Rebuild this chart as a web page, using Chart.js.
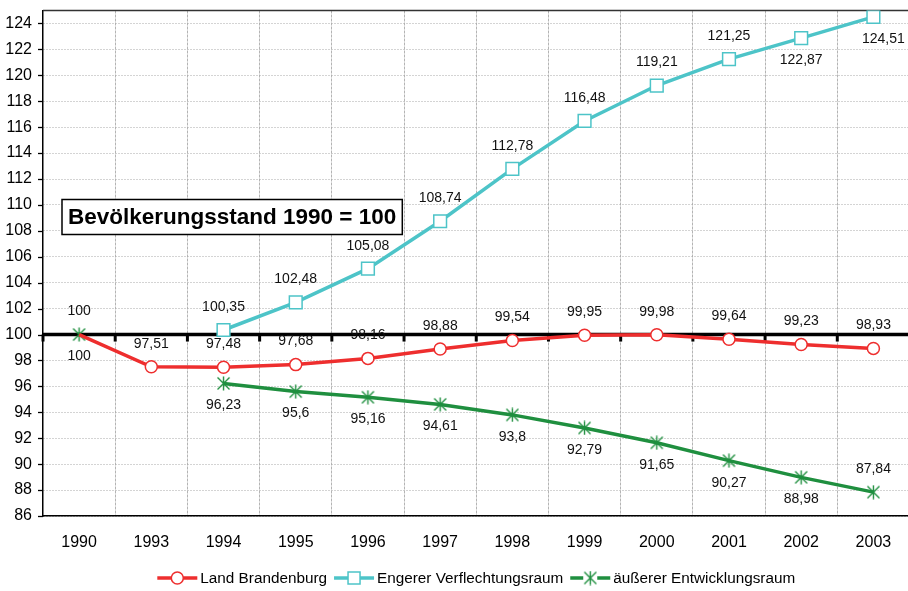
<!DOCTYPE html>
<html>
<head>
<meta charset="utf-8">
<script src="https://cdn.jsdelivr.net/npm/chart.js@4/dist/chart.umd.min.js"></script>
<style>
  html, body { margin: 0; padding: 0; background: #fff; overflow: hidden; }
  #wrap { width: 1000px; height: 591px; }
  canvas { display: block; }
</style>
</head>
<body>
<div id="wrap"><canvas id="chart" width="920" height="591" style="width:920px;height:591px"></canvas></div>
<script>
// Bevölkerungsentwicklung, 1990 = 100
const years = ['1990', '1993', '1994', '1995', '1996', '1997', '1998', '1999', '2000', '2001', '2002', '2003'];
const landBrandenburg = [100, 97.51, 97.48, 97.68, 98.16, 98.88, 99.54, 99.95, 99.98, 99.64, 99.23, 98.93];
const engererRaum = [null, null, 100.35, 102.48, 105.08, 108.74, 112.78, 116.48, 119.21, 121.25, 122.87, 124.51];
const aeussererRaum = [100, null, 96.23, 95.6, 95.16, 94.61, 93.8, 92.79, 91.65, 90.27, 88.98, 87.84];
const yTicks = [86, 88, 90, 92, 94, 96, 98, 100, 102, 104, 106, 108, 110, 112, 114, 116, 118, 120, 122, 124];
const refValue = 100;
const boxText = 'Bevölkerungsstand 1990 = 100';

const RED = '#ee2e2e', TEAL = '#4dc4c8', GREEN = '#1f8f3f';
const FONT = '"Liberation Sans", Arial, sans-serif';
const PLOT_RIGHT = 915; // rechter Rand der Zeichenfläche (im Original abgeschnitten)

// Stern-Marker (X mit senkrechtem Strich) wie in Excel
function starMarker(size, color) {
  const c = document.createElement('canvas');
  c.width = size; c.height = size;
  const g = c.getContext('2d');
  g.strokeStyle = color;
  g.lineWidth = 1.4;
  g.beginPath();
  g.moveTo(1.5, 1.5); g.lineTo(size - 1.5, size - 1.5);
  g.moveTo(size - 1.5, 1.5); g.lineTo(1.5, size - 1.5);
  g.moveTo(size / 2, 0.5); g.lineTo(size / 2, size - 0.5);
  g.stroke();
  return c;
}
const greenStar = starMarker(15, GREEN);

const fmt = v => String(v).replace('.', ',');

const labelsPlugin = {
  id: 'valueLabels',
  afterDatasetsDraw(chart) {
    const ctx = chart.ctx;
    ctx.save();
    ctx.font = '14px ' + FONT;
    ctx.fillStyle = '#111';
    ctx.textAlign = 'center';
    ctx.textBaseline = 'middle';
    chart.data.datasets.forEach((ds, di) => {
      const meta = chart.getDatasetMeta(di);
      meta.data.forEach((pt, i) => {
        const v = ds.data[i];
        if (v == null) return;
        const below = ds.labelBelow(i);
        ctx.fillText(fmt(v), pt.x + (ds.labelDx ? ds.labelDx(i) : 0), pt.y + (below ? 22 : -23));
      });
    });
    ctx.restore();
  }
};

const framePlugin = {
  id: 'frame',
  beforeDatasetsDraw(chart) {
    const { ctx, chartArea: a, scales: { x, y } } = chart;
    ctx.save();
    // Rahmen oben / rechts
    ctx.strokeStyle = '#333';
    ctx.lineWidth = 1.5;
    ctx.beginPath();
    ctx.moveTo(a.left, a.top); ctx.lineTo(a.right, a.top); ctx.lineTo(a.right, a.bottom);
    ctx.stroke();
    // Y-Achsen-Striche
    ctx.strokeStyle = '#000';
    ctx.lineWidth = 1.3;
    yTicks.forEach(t => {
      const py = Math.round(y.getPixelForValue(t)) + 0.5;
      ctx.beginPath(); ctx.moveTo(a.left - 5, py); ctx.lineTo(a.left, py); ctx.stroke();
    });
    // Bezugslinie 100
    const py = y.getPixelForValue(refValue);
    ctx.lineWidth = 3.5;
    ctx.beginPath(); ctx.moveTo(a.left, py); ctx.lineTo(a.right, py); ctx.stroke();
    ctx.lineWidth = 3;
    const w = x.getPixelForValue(1) - x.getPixelForValue(0);
    for (let i = 0; i <= years.length; i++) {
      const px = x.getPixelForValue(0) - w / 2 + i * w;
      ctx.beginPath(); ctx.moveTo(px, py); ctx.lineTo(px, py + 7); ctx.stroke();
    }
    ctx.restore();
  },
  afterDraw(chart) {
    const { ctx, chartArea: a } = chart;
    ctx.save();
    // Textkasten
    ctx.font = 'bold 22.5px ' + FONT;
    const tw = ctx.measureText(boxText).width;
    const bx = a.left + 19, by = a.top + 189, bw = tw + 12, bh = 35;
    ctx.fillStyle = '#fff';
    ctx.fillRect(bx, by, bw, bh);
    ctx.strokeStyle = '#000';
    ctx.lineWidth = 1.5;
    ctx.strokeRect(bx, by, bw, bh);
    ctx.fillStyle = '#000';
    ctx.textBaseline = 'middle';
    ctx.fillText(boxText, bx + 6, by + bh / 2 + 1);

    // Legende
    ctx.font = '15.3px ' + FONT;
    const items = chart.data.datasets.map(ds => ({ ds, tw: ctx.measureText(ds.label).width }));
    const iconW = 40, gapT = 3, gapI = 7;
    const total = items.reduce((s, it) => s + iconW + gapT + it.tw, 0) + gapI * (items.length - 1);
    let lx = (a.left + a.right) / 2 - total / 2;
    const ly = 578;
    items.forEach(it => {
      const ds = it.ds;
      ctx.strokeStyle = ds.borderColor;
      ctx.lineWidth = 3.5;
      ctx.beginPath(); ctx.moveTo(lx, ly); ctx.lineTo(lx + iconW, ly); ctx.stroke();
      const cx = lx + iconW / 2;
      if (ds.pointStyle === 'circle') {
        ctx.fillStyle = '#fff'; ctx.lineWidth = 1.5;
        ctx.beginPath(); ctx.arc(cx, ly, 6, 0, Math.PI * 2); ctx.fill(); ctx.stroke();
      } else if (ds.pointStyle === 'rect') {
        ctx.fillStyle = '#fff'; ctx.lineWidth = 1.5;
        ctx.fillRect(cx - 6, ly - 6, 12, 12); ctx.strokeRect(cx - 6, ly - 6, 12, 12);
      } else {
        ctx.fillStyle = '#fff';
        ctx.fillRect(cx - 7, ly - 7, 14, 14);
        ctx.drawImage(ds.pointStyle, cx - 7.5, ly - 7.5);
      }
      ctx.fillStyle = '#000';
      ctx.textBaseline = 'middle';
      ctx.textAlign = 'left';
      ctx.fillText(ds.label, lx + iconW + gapT, ly + 1);
      lx += iconW + gapT + it.tw + gapI;
    });
    ctx.restore();
  }
};

const chart = new Chart(document.getElementById('chart'), {
  type: 'line',
  data: {
    labels: years,
    datasets: [
      {
        label: 'Land Brandenburg',
        data: landBrandenburg,
        borderColor: RED,
        backgroundColor: '#fff',
        borderWidth: 3.5,
        pointStyle: 'circle',
        pointRadius: ctx => ctx.dataIndex === 0 ? 0 : 6,
        pointBorderWidth: 1.5,
        pointBackgroundColor: '#fff',
        labelBelow: () => false
      },
      {
        label: 'Engerer Verflechtungsraum',
        data: engererRaum,
        borderColor: TEAL,
        backgroundColor: '#fff',
        borderWidth: 3.5,
        pointStyle: 'rect',
        pointRadius: 9,
        pointBorderWidth: 1.5,
        pointBackgroundColor: '#fff',
        labelBelow: i => i >= 10,
        labelDx: i => i === 11 ? 10 : 0
      },
      {
        label: 'äußerer Entwicklungsraum',
        data: aeussererRaum,
        borderColor: GREEN,
        backgroundColor: '#fff',
        borderWidth: 3.5,
        pointStyle: greenStar,
        pointRadius: 7,
        labelBelow: i => i !== 11
      }
    ]
  },
  options: {
    responsive: false,
    animation: false,
    spanGaps: false,
    layout: { padding: { top: 9, right: 1, left: 0, bottom: 0 } },
    plugins: { legend: { display: false }, tooltip: { enabled: false } },
    elements: { line: { tension: 0 } },
    scales: {
      x: {
        offset: true,
        grid: { offset: true, color: '#b4b4b4', drawTicks: false, lineWidth: 1 },
        border: { color: '#000', width: 1.5, dash: [3, 1] },
        ticks: { color: '#000', font: { family: FONT, size: 16 }, padding: 17, maxRotation: 0, autoSkip: false },
        afterFit: s => { s.height = 75; s.paddingLeft = 0; s.paddingRight = 0; }
      },
      y: {
        min: 86,
        max: 125,
        grid: { color: '#a8a8a8', drawTicks: false, lineWidth: 1 },
        border: { color: '#000', width: 1.5, dash: [1, 2] },
        ticks: { color: '#000', font: { family: FONT, size: 16 }, padding: 11 },
        afterBuildTicks: s => { s.ticks = yTicks.map(v => ({ value: v })); },
        afterFit: s => { s.width = 43; s.paddingTop = 0; s.paddingBottom = 0; }
      }
    }
  },
  plugins: [framePlugin, labelsPlugin]
});

// Canvas so verbreitern, dass die Zeichenfläche bis PLOT_RIGHT reicht
const diff = Math.round(PLOT_RIGHT - chart.chartArea.right);
if (diff > 0) chart.resize(chart.width + diff, 591);
</script>
</body>
</html>
